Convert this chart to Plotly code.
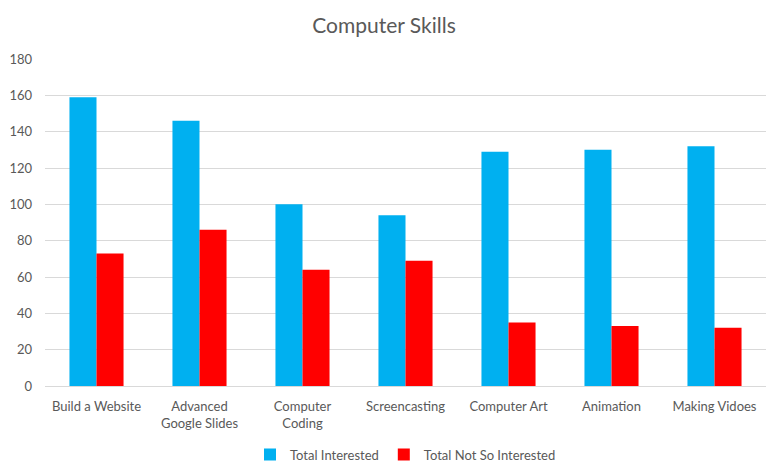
import plotly.graph_objects as go

categories = ["Build a Website", "Advanced<br>Google Slides", "Computer<br>Coding",
              "Screencasting", "Computer Art", "Animation", "Making Vidoes"]
interested = [159, 146, 100, 94, 129, 130, 132]
not_interested = [73, 86, 64, 69, 35, 33, 32]
y_ticks = [0, 20, 40, 60, 80, 100, 120, 140, 160, 180]

font_family = "Lato, 'Open Sans', sans-serif"
gray = "#595959"

fig = go.Figure()
fig.add_trace(go.Bar(x=categories, y=interested, name="Total Interested",
                     marker=dict(color="#00B0F0", line=dict(width=0))))
fig.add_trace(go.Bar(x=categories, y=not_interested, name="Total Not So Interested",
                     marker=dict(color="#FF0000", line=dict(width=0))))

fig.update_layout(
    width=768, height=472,
    margin=dict(l=45, r=2, t=59, b=86),
    paper_bgcolor="white", plot_bgcolor="white",
    barmode="group", bargap=0.475, bargroupgap=0,
    title=dict(text="Computer Skills", x=0.5, xanchor="center", y=0.945, yanchor="middle",
               font=dict(family=font_family, size=21, color=gray)),
    font=dict(family=font_family, size=13, color=gray),
    legend=dict(orientation="h", x=0.5, xanchor="center", y=-0.21, yanchor="middle",
                font=dict(size=13, color=gray), itemwidth=30, traceorder="normal"),
    xaxis=dict(showline=True, linecolor="#d9d9d9", linewidth=1, ticks="",
               tickfont=dict(size=13, color=gray), showgrid=False, ticklabelstandoff=8),
    yaxis=dict(range=[0, 180], tickvals=y_ticks, showgrid=True, gridcolor="#d9d9d9",
               gridwidth=1, zeroline=False, showline=False, ticks="",
               tickfont=dict(size=13, color=gray), ticklabelstandoff=12),
)

fig.write_html("out.html")
